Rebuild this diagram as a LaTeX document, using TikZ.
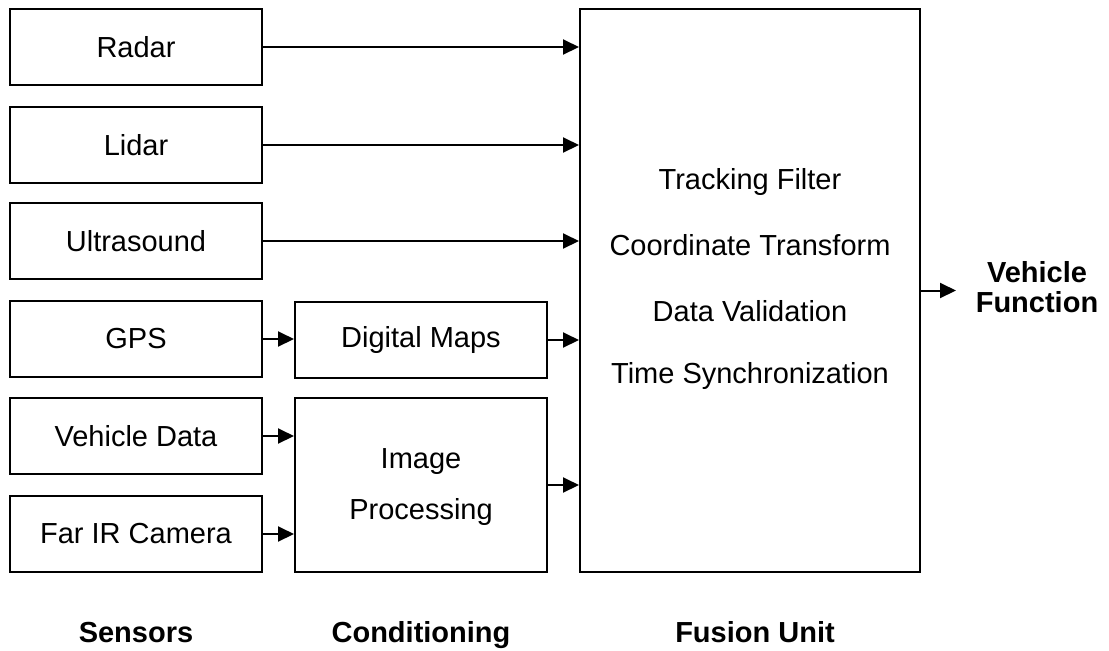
\documentclass[tikz,border=0pt]{standalone}
\usepackage{fontspec}
\setmainfont{Liberation Sans}
\usepackage{tikz}
\usetikzlibrary{arrows.meta}

\tikzset{
  blok/.style={draw=black, line width=1pt, fill=white, minimum width=126pt, minimum height=38pt, align=center},
  pijl/.style={line width=1pt, -{Triangle[length=8pt,width=7.5pt]}},
  titel/.style={font=\fontsize{14.5}{15}\selectfont\bfseries}
}

\begin{document}
\begin{tikzpicture}[x=0.5pt, y=-0.5pt, font=\fontsize{14.5}{17}\selectfont]
\useasboundingbox (0,0) rectangle (1109,650);
\node at (136,47) [blok] (radar) {Radar};
\node at (136,145) [blok] (lidar) {Lidar};
\node at (136,241) [blok] (ultra) {Ultrasound};
\node at (136,339) [blok] (gps) {GPS};
\node at (136,436) [blok] (vdata) {Vehicle Data};
\node at (136,534) [blok] (farir) {Far IR Camera};
\node at (421,340) [blok] (maps) {Digital Maps};
\node at (421,485) [blok, minimum height=87pt] (improc) {};
\node at (421,462) (imtxt1) {Image};
\node at (421,512) (imtxt2) {Processing};
\node at (750,290.5) [blok, minimum width=170pt, minimum height=281.5pt] (fusion) {};
\node at (750,182) {Tracking Filter};
\node at (750,245) {Coordinate Transform};
\node at (750,311) {Data Validation};
\node at (750,376) {Time Synchronization};
\node at (1037,287) [titel, align=center] (vfunc) {Vehicle\\Function};
\coordinate (vfin) at (956,290.5);
\draw[pijl] (radar.east) -- (radar.east -| fusion.west);
\draw[pijl] (lidar.east) -- (lidar.east -| fusion.west);
\draw[pijl] (ultra.east) -- (ultra.east -| fusion.west);
\draw[pijl] (gps.east) -- (gps.east -| maps.west);
\draw[pijl] (maps.east) -- (maps.east -| fusion.west);
\draw[pijl] (vdata.east) -- (vdata.east -| improc.west);
\draw[pijl] (farir.east) -- (farir.east -| improc.west);
\draw[pijl] (improc.east) -- (improc.east -| fusion.west);
\draw[pijl] (fusion.east) -- (vfin);
\node at (136,642) [titel, anchor=base] (sensors) {Sensors};
\node at (421,642) [titel, anchor=base] (cond) {Conditioning};
\node at (755,642) [titel, anchor=base] (funit) {Fusion Unit};
\end{tikzpicture}
\end{document}
